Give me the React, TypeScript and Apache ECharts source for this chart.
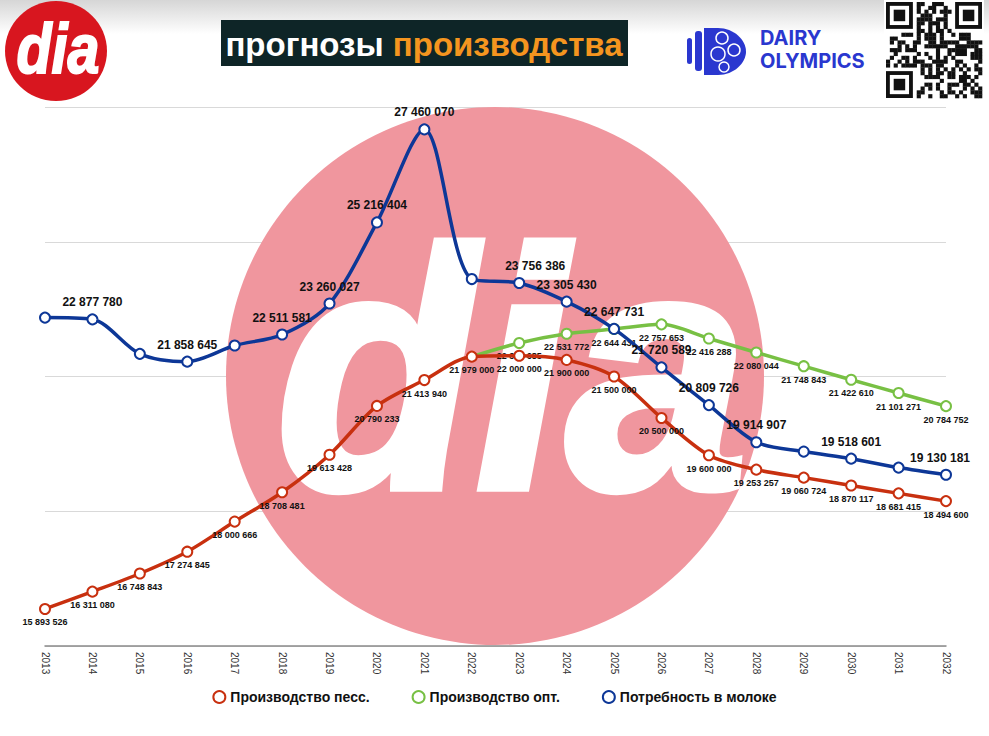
import React, { useEffect, useRef } from "react";
import * as echarts from "echarts";

const years = ["2013","2014","2015","2016","2017","2018","2019","2020","2021","2022","2023","2024","2025","2026","2027","2028","2029","2030","2031","2032"];
const pessimistic = [15893526,16311080,16748843,17274845,18000666,18708481,19613428,20790233,21413940,21979000,22000000,21900000,21500000,20500000,19600000,19253257,19060724,18870117,18681415,18494600];
const optimistic = [null,null,null,null,null,null,null,null,null,21979000,22308685,22531772,22644431,22757653,22416288,22080044,21748843,21422610,21101271,20784752];
const demand = [22920000,22877780,22046000,21858645,22247000,22511581,23260027,25216404,27460070,23850000,23756386,23305430,22647731,21720589,20809726,19914907,19689000,19518601,19303000,19130181];
const demandLabelShown = [false,true,false,true,false,true,true,true,true,false,true,true,true,true,true,true,false,true,false,true];
const seriesNames = ["Производство песс.", "Производство опт.", "Потребность в молоке"];
const yMin = 15000000;
const yMax = 28000000;
const yStep = 3250000;

const RED = "#c8300f";
const GREEN = "#78c044";
const BLUE = "#0d3797";
const FONT = "'Liberation Sans', Arial, Helvetica, sans-serif";

const fmt = (v: number) => String(Math.round(v)).replace(/\B(?=(\d{3})+(?!\d))/g, " ");

function qrModules() {
  const n = 25;
  const cells: any[] = [];
  const size = 96 / n;
  const inFinder = (r: number, c: number) =>
    (r < 8 && c < 8) || (r < 8 && c >= n - 8) || (r >= n - 8 && c < 8);
  let s = 12345;
  for (let r = 0; r < n; r++) {
    for (let c = 0; c < n; c++) {
      if (inFinder(r, c)) continue;
      s = (s * 1103515245 + 12345) & 0x7fffffff;
      if ((s >> 16) % 2 === 0) {
        cells.push({ type: "rect", shape: { x: c * size, y: r * size, width: size + 0.3, height: size + 0.3 }, style: { fill: "#111" } });
      }
    }
  }
  const finder = (fx: number, fy: number) => [
    { type: "rect", shape: { x: fx, y: fy, width: 7 * size, height: 7 * size }, style: { fill: "#111" } },
    { type: "rect", shape: { x: fx + size, y: fy + size, width: 5 * size, height: 5 * size }, style: { fill: "#fff" } },
    { type: "rect", shape: { x: fx + 2 * size, y: fy + 2 * size, width: 3 * size, height: 3 * size }, style: { fill: "#111" } },
  ];
  return [
    { type: "rect", shape: { x: -2, y: -2, width: 100, height: 100 }, style: { fill: "#fff" } },
    ...cells,
    ...finder(0, 0),
    ...finder((n - 7) * size, 0),
    ...finder(0, (n - 7) * size),
  ];
}

export default function App() {
  const ref = useRef<HTMLDivElement>(null);
  useEffect(() => {
    if (!ref.current) return;
    echarts.graphic.registerShape(
      "doIcon",
      echarts.graphic.extendPath("M0,0 L14,0 C30,0 42,12 42,23.5 C42,35 30,47 14,47 L0,47 Z", {}) as any
    );
    const chart = echarts.init(ref.current, null, { renderer: "svg" });

    const redLabel = { show: true, position: "bottom", distance: 3, fontSize: 9, fontWeight: "bold", color: "#111", fontFamily: FONT, formatter: (p: any) => fmt(p.value) };
    const demandOffsets: Record<number, number[]> = { 10: [16, 0], 19: [-6, 0] };

    chart.setOption({
      animation: false,
      backgroundColor: "#ffffff",
      grid: { left: 45, right: 43, top: 107, bottom: 90, containLabel: false },
      xAxis: {
        type: "category",
        data: years,
        boundaryGap: false,
        axisLine: { lineStyle: { color: "#8a8a8a", width: 1.5 } },
        axisTick: { show: false },
        axisLabel: { rotate: -90, fontSize: 10, color: "#333", fontFamily: FONT, margin: 6 },
      },
      yAxis: {
        type: "value",
        min: yMin,
        max: yMax,
        interval: yStep,
        axisLabel: { show: false },
        axisLine: { show: false },
        axisTick: { show: false },
        splitLine: { lineStyle: { color: "#d9d9d9", width: 1 } },
      },
      legend: {
        data: seriesNames,
        top: 685,
        left: "center",
        itemGap: 42,
        itemWidth: 12,
        itemHeight: 12,
        icon: "emptyCircle",
        itemStyle: { borderWidth: 3 },
        textStyle: { fontSize: 14, fontWeight: "bold", color: "#111", fontFamily: FONT },
      },
      graphic: [
        { type: "rect", shape: { x: 0, y: 0, width: 989, height: 34 }, style: { fill: new echarts.graphic.LinearGradient(0, 0, 0, 1, [{ offset: 0, color: "#d6d6d6" }, { offset: 1, color: "#ffffff" }]) }, z: 0 },
        // watermark
        { type: "circle", shape: { cx: 495, cy: 376, r: 269 }, style: { fill: "#f0969e" }, z: 1 },
        { type: "text", x: 512, y: 540, scaleX: 0.96, style: { text: "dia", fill: "#ffffff", font: `italic bold 340px ${FONT}`, align: "center", verticalAlign: "bottom", stroke: "#ffffff", lineWidth: 8 }, z: 1 },
        // header logo
        { type: "ellipse", shape: { cx: 56, cy: 51, rx: 51, ry: 50 }, style: { fill: "#d8161f" }, z: 3 },
        { type: "text", x: 58, y: 84, scaleX: 0.82, style: { text: "dia", fill: "#ffffff", font: `italic bold 70px ${FONT}`, align: "center", verticalAlign: "bottom", stroke: "#ffffff", lineWidth: 2 }, z: 4 },
        // title
        { type: "rect", shape: { x: 221, y: 20, width: 407, height: 46 }, style: { fill: "#0e2527" }, z: 3 },
        {
          type: "text", x: 424, y: 44, z: 4,
          style: {
            text: "{a|прогнозы }{b|производства}",
            align: "center", verticalAlign: "middle",
            rich: {
              a: { fill: "#ffffff", fontSize: 33, fontFamily: FONT, fontWeight: "bold" },
              b: { fill: "#f5951f", fontSize: 33, fontFamily: FONT, fontWeight: "bold" },
            },
          },
        },
        // dairy olympics
        { type: "rect", shape: { x: 687, y: 38, width: 5, height: 26, r: 2.5 }, style: { fill: "#2a37cf" }, z: 3 },
        { type: "rect", shape: { x: 695, y: 31, width: 7, height: 40, r: 3 }, style: { fill: "#2a37cf" }, z: 3 },
        { type: "doIcon", x: 704, y: 28, style: { fill: "#2a37cf" }, z: 3 },
        { type: "circle", shape: { cx: 722, cy: 38, r: 6 }, style: { fill: "none", stroke: "#fff", lineWidth: 1.5 }, z: 4 },
        { type: "circle", shape: { cx: 734, cy: 50, r: 6 }, style: { fill: "none", stroke: "#fff", lineWidth: 1.5 }, z: 4 },
        { type: "circle", shape: { cx: 718, cy: 54, r: 7 }, style: { fill: "none", stroke: "#fff", lineWidth: 1.5 }, z: 4 },
        { type: "circle", shape: { cx: 724, cy: 67, r: 5 }, style: { fill: "none", stroke: "#fff", lineWidth: 1.5 }, z: 4 },
        { type: "text", x: 760, y: 38, style: { text: "DAIRY", fill: "#2a37cf", font: `bold 20px Inter, ${FONT}`, verticalAlign: "middle" }, z: 4 },
        { type: "text", x: 760, y: 61, style: { text: "OLYMPICS", fill: "#2a37cf", font: `bold 20px Inter, ${FONT}`, verticalAlign: "middle" }, z: 4 },
        // QR
        { type: "group", x: 886, y: 2, z: 4, children: qrModules() },
      ],
      series: [
        {
          name: seriesNames[0],
          type: "line",
          data: pessimistic,
          smooth: 0.3,
          symbol: "emptyCircle",
          symbolSize: 10,
          lineStyle: { width: 3.5, color: RED },
          itemStyle: { color: RED, borderWidth: 3 },
          label: redLabel,
          z: 3,
        },
        {
          name: seriesNames[1],
          type: "line",
          data: optimistic.map((v, i) => (i === 9 ? { value: v, label: { show: false }, symbol: "none" } : v)),
          smooth: 0.3,
          symbol: "emptyCircle",
          symbolSize: 10,
          lineStyle: { width: 3.5, color: GREEN },
          itemStyle: { color: GREEN, borderWidth: 3 },
          label: redLabel,
          z: 2,
        },
        {
          name: seriesNames[2],
          type: "line",
          data: demand.map((v, i) => ({
            value: v,
            label: { show: demandLabelShown[i], offset: demandOffsets[i] || [0, 0] },
          })),
          smooth: 0.3,
          symbol: "emptyCircle",
          symbolSize: 10,
          lineStyle: { width: 3.5, color: BLUE },
          itemStyle: { color: BLUE, borderWidth: 3 },
          label: { position: "top", distance: 5, fontSize: 12, fontWeight: "bold", color: "#111", fontFamily: FONT, formatter: (p: any) => fmt(p.value) },
          z: 4,
        },
      ],
    });
    return () => chart.dispose();
  }, []);
  return <div ref={ref} style={{ width: 989, height: 736, position: "absolute", left: 0, top: 0 }} />;
}
